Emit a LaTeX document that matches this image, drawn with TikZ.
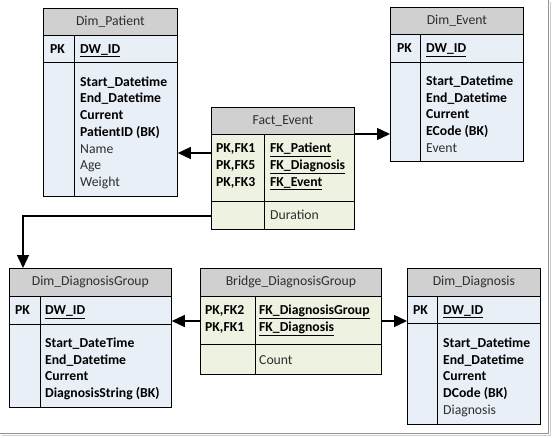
\documentclass[tikz,border=0pt]{standalone}
\usepackage{fontspec}
\setmainfont{Carlito}
\usetikzlibrary{arrows.meta}
\definecolor{hdrgray}{HTML}{D0D0D0}
\definecolor{dimblue}{HTML}{E9EFF7}
\definecolor{factgreen}{HTML}{EEF2E0}
\definecolor{txtgray}{HTML}{2E2E2E}
\tikzset{
  tbl/.style={draw, line width=0.8pt, inner sep=0pt, anchor=north west},
  hdr/.style={tbl, fill=hdrgray, text=txtgray, font=\fontsize{13.7}{16.7}\selectfont},
  dimrow/.style={tbl, fill=dimblue},
  factrow/.style={tbl, fill=factgreen},
  key/.style={anchor=base west, inner sep=0pt, font=\fontsize{13.7}{16.7}\selectfont\bfseries},
  attr/.style={anchor=base west, inner sep=0pt, text=txtgray, font=\fontsize{13.7}{16.7}\selectfont},
  fk/.style={line width=1.4pt, -{Triangle[length=13pt,width=12pt]}}
}
\begin{document}
\begin{tikzpicture}[x=1pt,y=-1pt]
        \useasboundingbox (0,0) rectangle (552,437);

        % Dim_Patient
        \node[hdr, minimum width=134pt, minimum height=27pt] (patient-hdr) at (43,8) {Dim\_Patient};
        \node[dimrow, minimum width=134pt, minimum height=27pt] (patient-pk) at (43,35) {};
        \node[dimrow, minimum width=134pt, minimum height=134pt] (patient-body) at (43,62) {};
        \draw[line width=0.8pt] ([xshift=31pt]patient-pk.north west) -- ([xshift=31pt]patient-body.south west);
        \node[key] (patient-k) at (50,53) {PK};
        \node[key] (patient-id) at (80,53) {\underline{DW\_ID}};
        \foreach \txt/\sty [count=\i] in {Start\_Datetime/key, End\_Datetime/key, Current/key, PatientID (BK)/key, Name/attr, Age/attr, Weight/attr}
          \node[\sty] (patient-a\i) at (80,{86+(\i-1)*16.75}) {\txt};

        % Dim_Event
        \node[hdr, minimum width=133pt, minimum height=27pt] (event-hdr) at (390,7) {Dim\_Event};
        \node[dimrow, minimum width=133pt, minimum height=28pt] (event-pk) at (390,34) {};
        \node[dimrow, minimum width=133pt, minimum height=99pt] (event-body) at (390,62) {};
        \draw[line width=0.8pt] ([xshift=30pt]event-pk.north west) -- ([xshift=30pt]event-body.south west);
        \node[key] (event-k) at (397,52.5) {PK};
        \node[key] (event-id) at (426,52.5) {\underline{DW\_ID}};
        \foreach \txt/\sty [count=\i] in {Start\_Datetime/key, End\_Datetime/key, Current/key, ECode (BK)/key, Event/attr}
          \node[\sty] (event-a\i) at (426,{85.5+(\i-1)*16.7}) {\txt};

        % Fact_Event
        \node[hdr, minimum width=143pt, minimum height=27pt] (fact-hdr) at (211,107) {Fact\_Event};
        \node[factrow, minimum width=143pt, minimum height=67pt] (fact-keys) at (211,134) {};
        \node[factrow, minimum width=143pt, minimum height=28pt] (fact-body) at (211,201) {};
        \draw[line width=0.8pt] ([xshift=53pt]fact-keys.north west) -- ([xshift=53pt]fact-body.south west);
        \foreach \k/\f [count=\i] in {PK{,}FK1/FK\_Patient, PK{,}FK5/FK\_Diagnosis, PK{,}FK3/FK\_Event} {
          \node[key] (fact-k\i) at (216,{152.5+(\i-1)*16.8}) {\k};
          \node[key] (fact-f\i) at (270,{152.5+(\i-1)*16.8}) {\underline{\f}};
        }
        \node[attr] (fact-a1) at (270,219.5) {Duration};

        % Dim_DiagnosisGroup
        \node[hdr, minimum width=162pt, minimum height=28pt] (group-hdr) at (9,268) {Dim\_DiagnosisGroup};
        \node[dimrow, minimum width=162pt, minimum height=28pt] (group-pk) at (9,296) {};
        \node[dimrow, minimum width=162pt, minimum height=83pt] (group-body) at (9,324) {};
        \draw[line width=0.8pt] ([xshift=31pt]group-pk.north west) -- ([xshift=31pt]group-body.south west);
        \node[key] (group-k) at (15,314.5) {PK};
        \node[key] (group-id) at (45,314.5) {\underline{DW\_ID}};
        \foreach \txt [count=\i] in {Start\_DateTime, End\_Datetime, Current, DiagnosisString (BK)}
          \node[key] (group-a\i) at (45,{347.5+(\i-1)*16.7}) {\txt};

        % Bridge_DiagnosisGroup
        \node[hdr, minimum width=181pt, minimum height=28pt] (bridge-hdr) at (200,268) {Bridge\_DiagnosisGroup};
        \node[factrow, minimum width=181pt, minimum height=48pt] (bridge-keys) at (200,296) {};
        \node[factrow, minimum width=181pt, minimum height=30pt] (bridge-body) at (200,344) {};
        \draw[line width=0.8pt] ([xshift=55pt]bridge-keys.north west) -- ([xshift=55pt]bridge-body.south west);
        \foreach \k/\f [count=\i] in {PK{,}FK2/FK\_DiagnosisGroup, PK{,}FK1/FK\_Diagnosis} {
          \node[key] (bridge-k\i) at (205,{314.5+(\i-1)*16.8}) {\k};
          \node[key] (bridge-f\i) at (259,{314.5+(\i-1)*16.8}) {\underline{\f}};
        }
        \node[attr] (bridge-a1) at (259,364.5) {Count};

        % Dim_Diagnosis
        \node[hdr, minimum width=133pt, minimum height=28pt] (diag-hdr) at (407,268) {Dim\_Diagnosis};
        \node[dimrow, minimum width=133pt, minimum height=27pt] (diag-pk) at (407,296) {};
        \node[dimrow, minimum width=133pt, minimum height=101pt] (diag-body) at (407,323) {};
        \draw[line width=0.8pt] ([xshift=30pt]diag-pk.north west) -- ([xshift=30pt]diag-body.south west);
        \node[key] (diag-k) at (413,314) {PK};
        \node[key] (diag-id) at (443,314) {\underline{DW\_ID}};
        \foreach \txt/\sty [count=\i] in {Start\_Datetime/key, End\_Datetime/key, Current/key, DCode (BK)/key, Diagnosis/attr}
          \node[\sty] (diag-a\i) at (443,{347.5+(\i-1)*16.7}) {\txt};

        % connectors
        \coordinate (fe-pat) at (211,153);
        \draw[fk] (fe-pat) -- (fe-pat -| patient-body.east);
        \coordinate (fe-evt) at (354,134);
        \draw[fk] (fe-evt) -- (fe-evt -| event-body.west);
        \coordinate (fe-grp) at (211,216);
        \coordinate (grp-bend) at (23,216);
        \draw[fk] (fe-grp) -- (grp-bend) -- (grp-bend |- group-hdr.north);
        \coordinate (br-grp) at (200,321);
        \draw[fk] (br-grp) -- (br-grp -| group-pk.east);
        \coordinate (br-dia) at (381,321);
        \draw[fk] (br-dia) -- (br-dia -| diag-pk.west);

        % frame shadow
        \draw[gray!40, line width=1.5pt] (550.5,2) -- (550.5,435.5) -- (2,435.5);
        \draw[gray!85, line width=1.2pt] (548.5,0) -- (548.5,433.5) -- (0,433.5);
      \end{tikzpicture}
\end{document}
